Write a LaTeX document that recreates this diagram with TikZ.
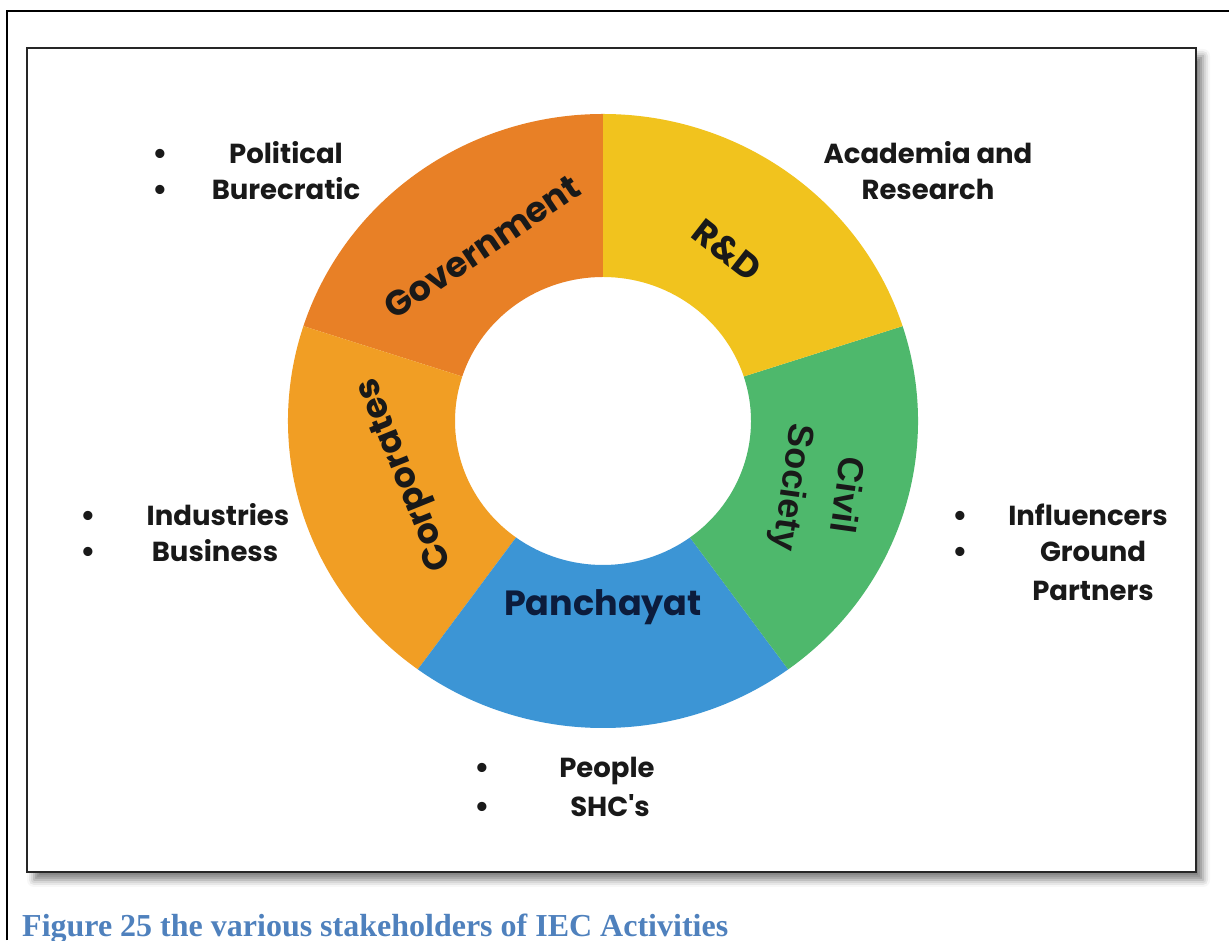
\documentclass[tikz,border=0pt]{standalone}
\usepackage{fontspec}
\setmainfont{Liberation Serif}
\newfontfamily\geofont{Poppins}
\newfontfamily\helvfont{Liberation Sans}
\usetikzlibrary{positioning}
\usetikzlibrary{calc}
\usetikzlibrary{shadows.blur}

\definecolor{govt}{RGB}{232,128,38}
\definecolor{corp}{RGB}{241,158,36}
\definecolor{panch}{RGB}{60,149,213}
\definecolor{civil}{RGB}{78,184,108}
\definecolor{rnd}{RGB}{241,195,30}
\definecolor{ink}{RGB}{25,25,25}
\definecolor{navy}{RGB}{12,28,60}
\definecolor{capblue}{RGB}{79,129,189}

\begin{document}
\begin{tikzpicture}[x=1pt,y=1pt]
\tikzstyle{seg} = [font=\geofont\bfseries\fontsize{35}{40}\selectfont, text=ink, inner sep=0pt, align=center]
\tikzstyle{item} = [font=\geofont\bfseries\fontsize{27.5}{32}\selectfont, text=ink, inner sep=0pt, anchor=base]
\tikzstyle{dot} = [font=\helvfont\bfseries\fontsize{32}{36}\selectfont, text=ink, inner sep=0pt, anchor=base]
\useasboundingbox (0,0) rectangle (1229,940);
% page frame
\draw[line width=2pt] (7,0) -- (7,929) -- (1229,929);
% box with shadow
\draw[line width=2pt, draw=black!85, fill=white, blur shadow={shadow xshift=7pt, shadow yshift=-8pt, shadow blur radius=7pt, shadow opacity=50}] (27,68) rectangle (1196,892);
% ring
\begin{scope}[shift={(603,519)}]
\foreach \a/\c in {90/govt, 162/corp, 234/panch, 306/civil, 378/rnd}
  \fill[\c] (\a:315 and 307) arc[start angle=\a, delta angle=72, x radius=315, y radius=307]
    -- (\a+72:148 and 144) arc[start angle=\a+72, delta angle=-72, x radius=148, y radius=144] -- cycle;
\end{scope}
% segment names
\node[seg, rotate=34] (govlbl) at (482,693) {Government};
\node[seg, rotate=-38] (rdlbl) at (727,690) {R\&D};
\node[seg, rotate=112] (corplbl) at (406,466) {Corporates};
\node[seg, text=navy] (panchlbl) at (603,333) {Panchayat};
\node[seg, font=\helvfont\bfseries\fontsize{36}{54}\selectfont, rotate=-98] (civlbl) at (818,449) {Civil\\Society};
% top left
\node[dot] (gb1) at (160,775) {\textbullet};
\node[dot] (gb2) at (160,739) {\textbullet};
\node[item] (pol) at (286,776) {Political};
\node[item] (bur) at (286,740) {Burecratic};
% top right
\node[item] (acad) at (928,776) {Academia and};
\node[item] (res) at (928,740) {Research};
% left
\node[dot] (cb1) at (88,413) {\textbullet};
\node[dot] (cb2) at (88,377) {\textbullet};
\node[item] (ind) at (218,414) {Industries};
\node[item] (bus) at (215,378) {Business};
% right
\node[dot] (sb1) at (960,413) {\textbullet};
\node[dot] (sb2) at (960,377) {\textbullet};
\node[item] (infl) at (1088,414) {Influencers};
\node[item] (grd) at (1093,378) {Ground};
\node[item] (part) at (1093,339) {Partners};
% bottom
\node[dot] (pb1) at (482,161) {\textbullet};
\node[dot] (pb2) at (482,122) {\textbullet};
\node[item] (ppl) at (607,162) {People};
\node[item] (shg) at (610,123) {SHC's};
% caption
\node[font=\bfseries\fontsize{32}{38}\selectfont, text=capblue, anchor=base west, inner sep=0pt] (caption) at (22,4) {Figure 25 the various stakeholders of IEC Activities};
\end{tikzpicture}
\end{document}
